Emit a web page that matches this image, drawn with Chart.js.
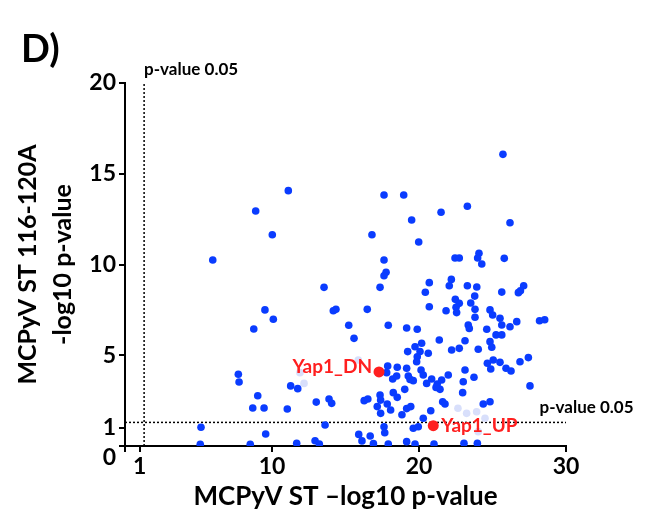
<!DOCTYPE html>
<html>
<head>
<meta charset="utf-8">
<script src="https://cdn.jsdelivr.net/npm/chart.js@4.4.1/dist/chart.umd.min.js"></script>
<style>
  html, body { margin: 0; padding: 0; background: #fff; }
  #graph-viewer { display: block; }
</style>
</head>
<body>
<canvas id="graph-viewer" width="650" height="520"></canvas>
<script>
// values
const xTicks = [0, 1, 10, 20, 30];
const yTicks = [0, 1, 5, 10, 15, 20];
const pCutoff = 1.3; // -log10(0.05)

const blueX = [11.11, 8.89, 10.02, 5.97, 16.80, 13.54, 17.35, 9.52, 14.17, 14.35, 16.48,
  25.71, 17.62, 18.96, 23.29, 21.50, 19.50, 26.19, 19.98, 17.62, 22.45, 22.74, 24.08, 23.99,
  24.27, 25.80, 17.76, 17.62, 20.70, 20.43, 22.20, 22.06, 23.29, 23.93, 23.79, 23.52, 22.47,
  22.74, 25.63, 27.12, 26.76, 26.90, 20.70, 21.84, 22.52, 22.56, 23.81, 23.81, 24.83, 25.01,
  25.51, 25.63, 23.35, 23.42, 26.19, 26.65, 28.20, 28.55, 24.61, 25.24, 25.63, 23.13, 22.74,
  22.22, 24.83, 24.95, 24.03, 23.13, 23.01, 22.97, 23.74, 24.65, 25.05, 25.51, 24.88, 25.92,
  26.26, 26.87, 27.44, 27.55, 24.37, 24.83, 23.06, 23.97, 10.09, 8.76, 15.22, 15.58, 7.71,
  7.76, 9.03, 8.69, 9.46, 11.04, 11.27, 11.75, 13.01, 13.88, 14.06, 16.27, 16.52, 5.17, 5.12,
  8.52, 9.57, 11.68, 12.93, 13.22, 13.61, 15.90, 16.12, 16.68, 17.91, 19.16, 19.88, 21.38,
  20.18, 19.73, 19.23, 20.07, 20.63, 19.88, 19.84, 17.87, 18.52, 19.16, 17.80, 18.21, 18.48,
  19.27, 19.39, 19.61, 20.14, 20.29, 20.86, 20.52, 21.24, 21.43, 21.54, 21.99, 21.16, 19.03,
  18.25, 18.52, 17.35, 17.39, 17.84, 17.16, 18.07, 17.39, 19.16, 19.44, 18.84, 20.80, 21.61,
  21.77, 20.29, 19.61, 19.95, 17.62, 17.67, 16.90, 17.91, 19.16, 19.73, 21.02];
const blueY = [14.07, 12.95, 11.64, 10.25, 11.64, 8.74, 8.74, 7.50, 7.45, 7.53, 7.53,
  16.07, 13.83, 13.83, 13.21, 12.88, 12.45, 12.30, 11.24, 10.25, 10.36, 10.36, 10.62, 10.36,
  10.03, 10.34, 9.57, 9.38, 9.00, 8.47, 9.18, 8.83, 8.83, 8.76, 8.26, 7.88, 8.08,
  7.86, 8.48, 8.83, 8.45, 8.55, 7.67, 7.45, 7.64, 7.35, 7.53, 7.09, 7.50, 7.22,
  7.04, 6.67, 6.67, 6.48, 6.57, 6.85, 6.90, 6.96, 6.43, 6.12, 6.12, 5.80, 5.38,
  5.29, 5.75, 5.44, 5.33, 4.19, 3.54, 2.94, 3.79, 4.56, 4.74, 4.61, 4.24, 4.28,
  4.13, 4.64, 4.87, 3.31, 2.31, 2.44, 0.15, 0.15, 6.98, 6.45, 6.65, 5.93, 3.95,
  3.53, 2.77, 2.09, 2.09, 2.04, 3.31, 3.16, 2.42, 2.59, 2.35, 2.50, 2.59, 1.03, 0.09,
  0.09, 0.66, 0.15, 0.29, 0.11, 1.16, 0.64, 0.28, 0.55, 6.65, 6.50, 6.43, 5.84,
  5.66, 5.47, 5.20, 5.20, 5.11, 4.92, 4.64, 4.41, 4.34, 4.28, 4.04, 3.69, 3.86,
  3.86, 3.67, 3.60, 4.19, 3.91, 3.69, 3.45, 3.42, 3.12, 3.64, 3.91, 3.23, 3.12,
  2.94, 2.68, 2.81, 2.53, 2.31, 2.17, 1.98, 1.80, 2.06, 2.17, 1.72, 1.94, 2.44,
  2.31, 1.53, 0.98, 1.06, 1.06, 0.73, 0.13, 0.11, 0.24, 0.11, 0.11];

// points that sit half hidden behind the labels
const fadedX = [11.90, 12.18, 15.87, 22.65, 23.24, 23.92, 24.49, 24.03];
const fadedY = [4.04, 3.45, 4.74, 2.08, 1.80, 1.89, 1.53, 0.79];

const redLabels = ['Yap1_DN', 'Yap1_UP'];
const redX = [17.28, 20.97];
const redY = [4.08, 1.12];

const toPoints = (xs, ys) => xs.map((x, i) => ({ x: x, y: ys[i] }));

const font = 'Lato, "Open Sans", sans-serif';

const textPlugin = {
    id: 'textPlugin',
    afterDatasetsDraw(chart) {
        const ctx = chart.ctx;
        const x = chart.scales.x;
        const y = chart.scales.y;
        ctx.save();
        ctx.textBaseline = 'middle';

        // red gene labels
        ctx.fillStyle = '#ff1f1f';
        ctx.font = 'bold 19px ' + font;
        ctx.textAlign = 'right';
        ctx.fillText(redLabels[0], x.getPixelForValue(redX[0]) - 7, y.getPixelForValue(redY[0]) - 5);
        ctx.textAlign = 'left';
        ctx.fillText(redLabels[1], x.getPixelForValue(redX[1]) + 8, y.getPixelForValue(redY[1]));

        // cutoff labels
        ctx.fillStyle = '#000';
        ctx.font = 'bold 17px ' + font;
        ctx.textAlign = 'left';
        ctx.fillText('p-value 0.05', x.getPixelForValue(pCutoff), y.getPixelForValue(20) - 13);
        ctx.fillText('p-value 0.05', x.getPixelForValue(28.2), y.getPixelForValue(pCutoff) - 15);

        // the zero of the y axis sits a little below the corner
        ctx.font = 'bold 23px ' + font;
        ctx.textAlign = 'right';
        ctx.fillText('0', x.left - 9, y.getPixelForValue(0) + 12);

        // panel letter
        ctx.font = 'bold 38px ' + font;
        ctx.textAlign = 'left';
        ctx.textBaseline = 'alphabetic';
        ctx.fillText('D)', 21, 62);
        ctx.restore();
    }
};

const ctx = document.getElementById('graph-viewer')?.getContext('2d');
if (ctx) {
    new Chart(ctx, {
        type: 'scatter',
        data: {
            datasets: [
                {
                    label: 'cutoff x',
                    type: 'line',
                    data: [{ x: pCutoff, y: 0 }, { x: pCutoff, y: 20 }],
                    borderColor: '#000',
                    borderWidth: 1.5,
                    borderDash: [2, 2],
                    pointRadius: 0,
                    order: 4
                },
                {
                    label: 'cutoff y',
                    type: 'line',
                    data: [{ x: 0, y: pCutoff }, { x: 30, y: pCutoff }],
                    borderColor: '#000',
                    borderWidth: 1.5,
                    borderDash: [2, 2],
                    pointRadius: 0,
                    order: 4
                },
                {
                    label: 'faded',
                    data: toPoints(fadedX, fadedY),
                    backgroundColor: '#d8dffb',
                    borderWidth: 0,
                    pointRadius: 3.8,
                    order: 3
                },
                {
                    label: 'genes',
                    data: toPoints(blueX, blueY),
                    backgroundColor: '#0a3cff',
                    borderWidth: 0,
                    pointRadius: 3.8,
                    order: 2
                },
                {
                    label: 'Yap1',
                    data: toPoints(redX, redY),
                    backgroundColor: '#ff1f1f',
                    borderWidth: 0,
                    pointRadius: 5.5,
                    order: 1
                }
            ]
        },
        options: {
            responsive: false,
            animation: false,
            layout: { padding: { left: 0, top: 83, right: 84, bottom: 0 } },
            plugins: {
                legend: { display: false },
                tooltip: { enabled: false }
            },
            scales: {
                x: {
                    type: 'linear',
                    min: 0,
                    max: 30,
                    afterBuildTicks: (scale) => { scale.ticks = xTicks.map(v => ({ value: v })); },
                    afterFit: (scale) => { scale.height = 74; },
                    ticks: {
                        color: '#000',
                        font: { family: font, size: 23, weight: 'bold' },
                        padding: 1,
                        maxRotation: 0,
                        callback: (v) => (v === 0 ? '' : v)
                    },
                    grid: { drawOnChartArea: false, color: '#000', tickLength: 6, lineWidth: 2 },
                    border: { color: '#000', width: 2 },
                    title: {
                        display: true,
                        text: 'MCPyV ST \u2013log10 p-value',
                        color: '#000',
                        font: { family: font, size: 26, weight: 'bold' },
                        padding: { top: 0, bottom: 8 }
                    }
                },
                y: {
                    type: 'linear',
                    min: 0,
                    max: 20,
                    afterBuildTicks: (scale) => { scale.ticks = yTicks.map(v => ({ value: v })); },
                    afterFit: (scale) => { scale.width = 125; },
                    ticks: {
                        color: '#000',
                        font: { family: font, size: 23, weight: 'bold' },
                        padding: 3,
                        callback: (v) => (v === 0 ? '' : v)
                    },
                    grid: { drawOnChartArea: false, color: '#000', tickLength: 6, lineWidth: 2 },
                    border: { color: '#000', width: 2 },
                    title: {
                        display: true,
                        text: ['MCPyV ST 116-120A', '-log10 p-value'],
                        color: '#000',
                        font: { family: font, size: 25, weight: 'bold', lineHeight: 1.4 },
                        padding: { top: 10, bottom: 0 }
                    }
                }
            }
        },
        plugins: [textPlugin]
    });
}
</script>
</body>
</html>
